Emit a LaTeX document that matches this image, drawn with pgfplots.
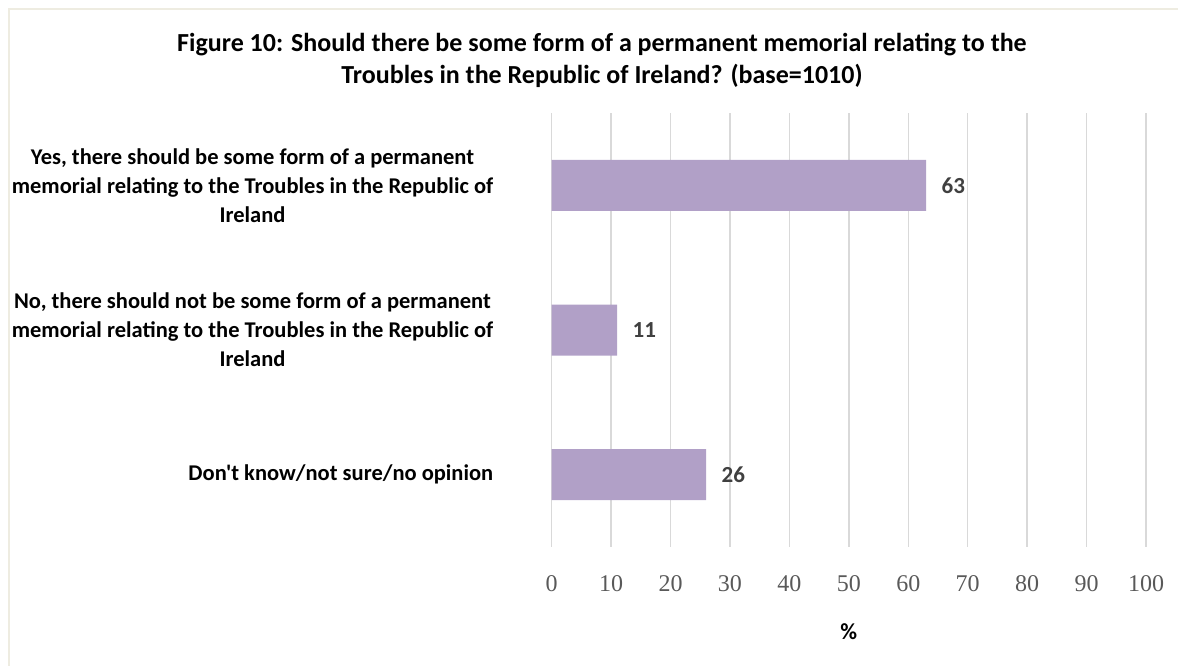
\documentclass[border=0pt]{standalone}
\usepackage{fontspec}
\setmainfont{Carlito}[Ligatures=TeXOff]
\newfontfamily\serifnum{Liberation Serif}
\usepackage{pgfplots}
\pgfplotsset{compat=1.18}
\definecolor{barc}{HTML}{B1A0C7}
\definecolor{gridc}{HTML}{D9D9D9}
\definecolor{tickc}{HTML}{595959}
\definecolor{lblc}{HTML}{404040}
\definecolor{framec}{HTML}{EEECE1}
\begin{document}
\begin{tikzpicture}
\path[use as bounding box] (0,0) rectangle (1178bp,666bp);
\draw[framec, line width=1.5bp] (9bp,0) -- (9bp,657bp) -- (1178bp,657bp);
\node[align=center, font=\fontsize{26bp}{32bp}\selectfont\bfseries] at (602bp,606bp)
  {Figure 10: Should there be some form of a permanent memorial relating to the\\Troubles in the Republic of Ireland? (base=1010)};
\begin{axis}[
  at={(551.7bp,119bp)}, anchor=south west,
  scale only axis, width=594.3bp, height=434bp,
  xbar, bar width=51bp,
  xmin=0, xmax=100, ymin=-0.5, ymax=2.5,
  y dir=reverse,
  xtick={0,10,...,100},
  ytick={0,1,2},
  yticklabels={{Yes, there should be some form of a permanent\\memorial relating to the Troubles in the Republic of\\Ireland},
               {No, there should not be some form of a permanent\\memorial relating to the Troubles in the Republic of\\Ireland},
               {Don't know/not sure/no opinion}},
  yticklabel style={align=center, font=\fontsize{22.5bp}{29bp}\selectfont\bfseries, xshift=-55bp},
  xticklabel style={font=\serifnum\fontsize{24bp}{24bp}\selectfont, text=tickc, yshift=-25bp},
  /pgf/number format/assume math mode=true,
  major tick length=0pt,
  axis line style={draw=none},
  xmajorgrids, grid style={gridc, line width=1.5bp},
  xlabel={\textbf{\%}},
  xlabel style={font=\fontsize{23bp}{24bp}\selectfont, yshift=-25bp},
  nodes near coords,
  nodes near coords style={font=\fontsize{23bp}{24bp}\selectfont\bfseries, text=lblc, anchor=west, xshift=12bp},
  clip=false,
]
\addplot[fill=barc, draw=none] coordinates {(63,0) (11,1) (26,2)};
\end{axis}
\end{tikzpicture}
\end{document}
